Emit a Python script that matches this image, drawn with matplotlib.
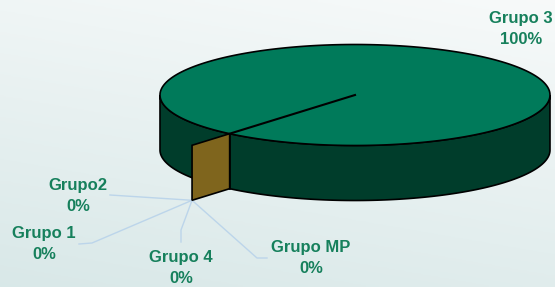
import numpy as np
import matplotlib.pyplot as plt
from matplotlib.patches import Polygon

# data
grupos = ['Grupo 1', 'Grupo2', 'Grupo 3', 'Grupo 4', 'Grupo MP']
valores = [0, 0, 100, 0, 0]

# label positions (pixels, centre of the two-line label)
label_pos = {'Grupo 1': (44, 244), 'Grupo2': (78, 196), 'Grupo 3': (521, 29),
             'Grupo 4': (181, 268), 'Grupo MP': (311, 258)}
# leader line elbows (pixels)
leader = {'Grupo 1': [(92, 243), (79, 244)], 'Grupo2': [(110, 195)],
          'Grupo 4': [(181, 230), (181, 242)],
          'Grupo MP': [(257, 258), (267, 258)]}

W, H = 555, 287
fig = plt.figure(figsize=(W / 100, H / 100), dpi=100)
ax = fig.add_axes([0, 0, 1, 1])
ax.set_xlim(0, W)
ax.set_ylim(H, 0)
ax.axis('off')

# background gradient
yy, xx = np.mgrid[0:1:100j, 0:1:100j]
t = np.clip(0.75 * yy + 0.25 * (1 - xx), 0, 1)
top = np.array([0.97, 0.98, 0.98])
bot = np.array([0.85, 0.91, 0.91])
bg = top[None, None, :] * (1 - t[..., None]) + bot[None, None, :] * t[..., None]
ax.imshow(bg, extent=[0, W, H, 0], aspect='auto', zorder=0)

# pie geometry
cx, cy = 355, 95
a, b = 195, 50.5
depth = 55
start = 230.0
col_top = '#007a5a'
col_side = '#003d2b'
col_face = '#7f651d'
col_txt = '#16805c'

def pt(ang, r=1.0, dz=0.0):
    ang = np.radians(ang)
    return cx + a * r * np.cos(ang), cy - b * r * np.sin(ang) + dz

total = float(sum(valores))
fr = [v / total for v in valores]

# side band of the visible front half
ts = np.linspace(180, 360, 200)
up = [pt(x) for x in ts]
dn = [pt(x, dz=depth) for x in ts[::-1]]
ax.add_patch(Polygon(up + dn, closed=True, fc=col_side, ec='black', lw=1.2, zorder=2))

# top of each non-zero slice
ang0 = start
for g, f in zip(grupos, fr):
    if f <= 0:
        continue
    ts = np.linspace(ang0, ang0 + 360 * f, 300)
    poly = [pt(x) for x in ts]
    if f < 1:
        poly = [(cx, cy)] + poly
    ax.add_patch(Polygon(poly, closed=True, fc=col_top, ec='black', lw=1.2, zorder=3))
    ang0 += 360 * f

# slice boundary: radial line on top and edge on the side
x0, y0 = pt(start)
ax.plot([cx, x0], [cy, y0], color='black', lw=1.5, zorder=4)
ax.plot([x0, x0], [y0, y0 + depth], color='black', lw=1.2, zorder=4)

# cut face of the zero slices
face = [pt(start, 1.0), pt(start, 1.3), pt(start, 1.3, depth), pt(start, 1.0, depth)]
ax.add_patch(Polygon(face, closed=True, fc=col_face, ec='black', lw=1.2, zorder=5))

# leader lines from the outer corner
ox, oy = pt(start, 1.3, depth)
for g in grupos:
    if g in leader:
        xs = [ox] + [p[0] for p in leader[g]]
        ys = [oy] + [p[1] for p in leader[g]]
        ax.plot(xs, ys, color='#bcd5ea', lw=1.0, zorder=1)

# labels
for g, f in zip(grupos, fr):
    x, y = label_pos[g]
    ax.text(x, y, f'{g}\n{f * 100:.0f}%', ha='center', va='center',
            fontsize=12, fontweight='bold', family='Liberation Sans',
            color=col_txt, linespacing=1.45, zorder=6)

fig.savefig('out.png', dpi=100)
